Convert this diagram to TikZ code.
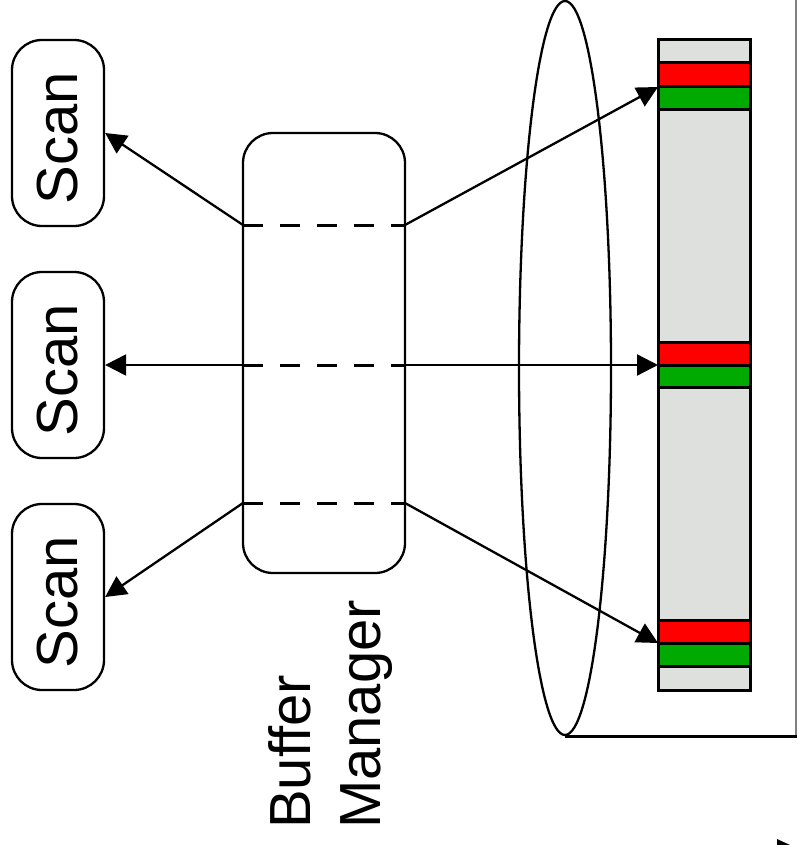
\documentclass[tikz,border=0pt]{standalone}
\usepackage{fontspec}
\setmainfont{Liberation Sans}
\usetikzlibrary{arrows.meta}
\definecolor{diskgray}{RGB}{221,224,221}
\definecolor{bandred}{RGB}{255,0,0}
\definecolor{bandgreen}{RGB}{0,170,0}
\begin{document}
\begin{tikzpicture}[x=1pt,y=-1pt,
  scanbox/.style={draw, line width=2.3pt, rounded corners=30pt, minimum width=92pt, minimum height=186pt, inner sep=0pt, font=\fontsize{58}{70}\selectfont},
  bufbox/.style={draw, line width=2.3pt, rounded corners=30pt, minimum width=162pt, minimum height=440pt, inner sep=0pt},
  arr/.style={line width=2.3pt, -{Triangle[length=21pt,width=21pt]}},
  dashline/.style={line width=3pt, dash pattern=on 20pt off 17pt},
  band/.style={draw, line width=3pt}
]
\useasboundingbox (0,0) rectangle (797,845);

% cylinder
\draw[line width=2.3pt] (565,368) ellipse [x radius=46, y radius=367];
\coordinate (cylb) at (565,736);
\coordinate (cylr) at (797,736);
\coordinate (cylt) at (796,0);
\coordinate (cylc) at (796,736);
\draw[gray, line width=1.5pt] (cylt) -- (cylc);
\draw[line width=3pt] (cylb) -- (cylr);

% disk column
\node[draw, fill=diskgray, line width=3pt, minimum width=92pt, minimum height=650pt, inner sep=0pt] (disk) at (704,365) {};
\draw[band, fill=bandred] (658,63) rectangle (750,87);
\draw[band, fill=bandgreen] (658,87) rectangle (750,110);
\draw[band, fill=bandred] (658,342) rectangle (750,365);
\draw[band, fill=bandgreen] (658,365) rectangle (750,387);
\draw[band, fill=bandred] (658,620) rectangle (750,643);
\draw[band, fill=bandgreen] (658,643) rectangle (750,666);
\coordinate (p1) at (658,87);
\coordinate (p2) at (658,365);
\coordinate (p3) at (658,643);

% scans
\node[scanbox] (scan1) at (58,133) {\rotatebox{90}{Scan\kern10pt}};
\node[scanbox] (scan2) at (58,365) {\rotatebox{90}{Scan\kern10pt}};
\node[scanbox] (scan3) at (58,597) {\rotatebox{90}{Scan\kern10pt}};

% buffer manager
\node[bufbox] (buf) at (324,353) {};
\coordinate (d1l) at (243,225);
\coordinate (d1r) at (405,225);
\coordinate (d2l) at (243,365);
\coordinate (d2r) at (405,365);
\coordinate (d3l) at (243,503);
\coordinate (d3r) at (405,503);
\draw[dashline] (d1l) -- (d1r);
\draw[dashline] (d2l) -- (d2r);
\draw[dashline] (d3l) -- (d3r);
\node[rotate=90, anchor=west, align=left, inner sep=0pt, font=\fontsize{58}{70}\selectfont] (bmlabel) at (331,829) {Buffer\\Manager};

% connectors
\draw[arr] (d1l) -- (scan1.east);
\draw[arr] (d2l) -- (scan2.east);
\draw[arr] (d3l) -- (scan3.east);
\draw[arr] (d1r) -- (p1);
\draw[arr] (d2r) -- (p2);
\draw[arr] (d3r) -- (p3);

% stray arrow tip at the bottom right
\fill (777,839) -- (790,845) -- (777,845) -- cycle;
\end{tikzpicture}
\end{document}
